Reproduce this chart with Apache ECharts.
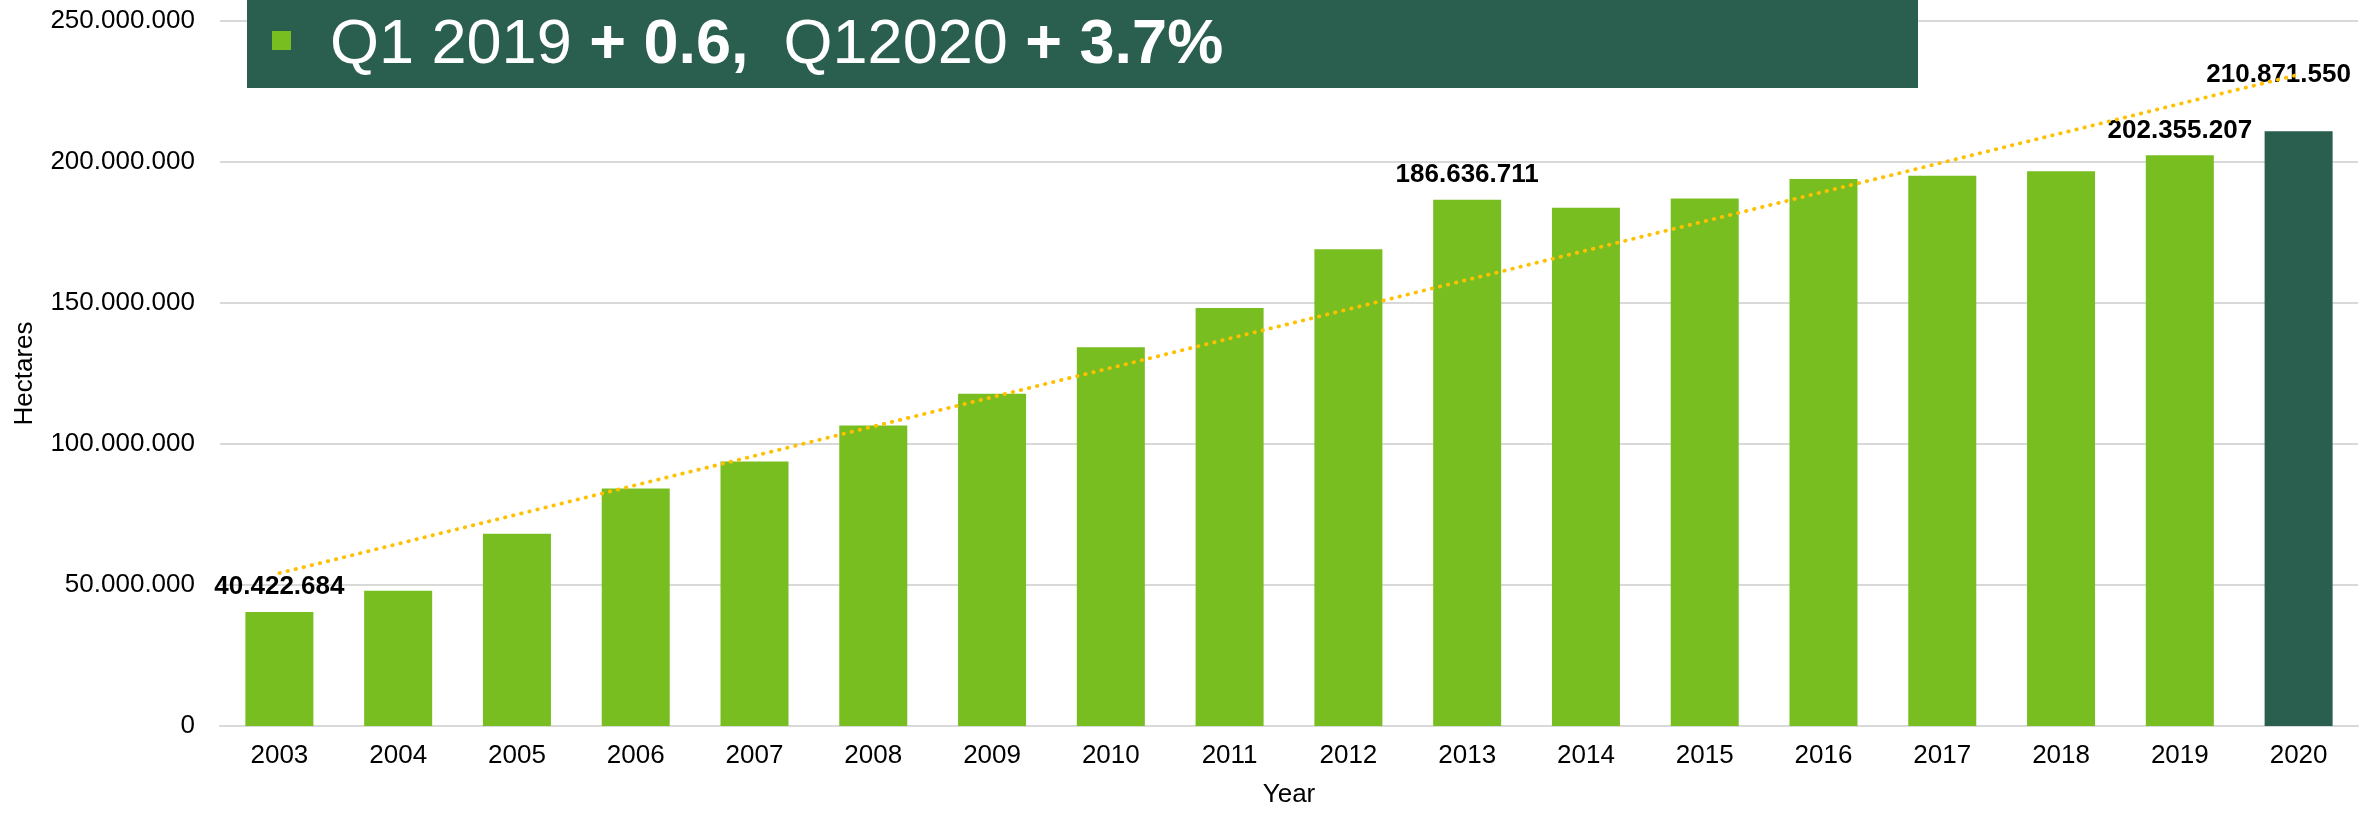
<!DOCTYPE html>
<html>
<head>
<meta charset="utf-8">
<style>
  html, body { margin: 0; padding: 0; background: #fff; }
  #main { width: 2376px; height: 813px; }
</style>
<script src="https://cdn.jsdelivr.net/npm/echarts@6/dist/echarts.min.js"></script>
</head>
<body>
<div id="main"></div>
<script>
var years = ['2003', '2004', '2005', '2006', '2007', '2008', '2009', '2010', '2011',
  '2012', '2013', '2014', '2015', '2016', '2017', '2018', '2019', '2020'];
var hectares = [40422684, 48000000, 68200000, 84200000, 93800000, 106600000, 117800000,
  134300000, 148200000, 169100000, 186636711, 183800000, 187100000, 194000000,
  195100000, 196700000, 202355207, 210871550];
var labelledYears = ['2003', '2013', '2019', '2020'];
var highlightYear = '2020';
// linear trend: value at first and last year
var trendEnds = [54200000, 231000000];
var yTicks = [0, 50000000, 100000000, 150000000, 200000000, 250000000];

var green = '#78BE21';
var darkGreen = '#2A5E4E';
var font = '"Liberation Sans", Arial, sans-serif';

var fmt = function(v) {
  return String(v).replace(/\B(?=(\d{3})+(?!\d))/g, '.');
};

var barData = years.map(function(y, i) {
  var item = {
    value: hectares[i],
    itemStyle: { color: y === highlightYear ? darkGreen : green }
  };
  if (labelledYears.indexOf(y) !== -1) {
    item.label = { show: true };
    if (y === highlightYear) {
      item.label.offset = [-20, -32];
    }
  }
  return item;
});

var trendData = years.map(function(y, i) {
  if (i === 0) return trendEnds[0];
  if (i === years.length - 1) return trendEnds[1];
  return null;
});

var myChart = echarts.init(document.getElementById('main'));

var option = {
  animation: false,
  textStyle: { fontFamily: font },
  grid: {
    left: 220,
    right: 18,
    top: 21,
    bottom: 82,
    containLabel: false
  },
  xAxis: {
    type: 'category',
    data: years,
    name: 'Year',
    nameLocation: 'middle',
    nameGap: 56,
    nameTextStyle: { color: '#000', fontSize: 26, fontFamily: font },
    axisLine: { lineStyle: { color: '#D9D9D9', width: 2 } },
    axisTick: { show: false },
    axisLabel: { color: '#000', fontSize: 26, margin: 17, fontFamily: font }
  },
  yAxis: {
    type: 'value',
    min: yTicks[0],
    max: yTicks[yTicks.length - 1],
    interval: yTicks[1] - yTicks[0],
    name: 'Hectares',
    nameLocation: 'middle',
    nameGap: 182,
    nameRotate: 90,
    nameTextStyle: { color: '#000', fontSize: 26, fontFamily: font },
    axisLine: { show: false },
    axisTick: { show: false },
    axisLabel: {
      color: '#000',
      fontSize: 26,
      margin: 25,
      fontFamily: font,
      formatter: fmt
    },
    splitLine: { lineStyle: { color: '#D9D9D9', width: 2 } }
  },
  series: [{
    type: 'bar',
    data: barData,
    barWidth: 68,
    z: 2,
    label: {
      show: false,
      position: 'top',
      distance: 12,
      color: '#000',
      fontSize: 26,
      fontWeight: 'bold',
      fontFamily: font,
      formatter: function(p) { return fmt(p.value); }
    }
  }, {
    type: 'line',
    data: trendData,
    connectNulls: true,
    symbol: 'none',
    silent: true,
    z: 3,
    lineStyle: {
      color: '#FFC000',
      width: 3.8,
      type: [0.5, 7.8],
      cap: 'round'
    }
  }],
  graphic: [{
    type: 'rect',
    left: 247,
    top: 0,
    shape: { width: 1671, height: 88 },
    style: { fill: darkGreen },
    z: 10
  }, {
    type: 'rect',
    left: 272,
    top: 31,
    shape: { width: 19, height: 19 },
    style: { fill: green },
    z: 11
  }, {
    type: 'text',
    left: 330,
    top: 14,
    z: 11,
    style: {
      text: '{r|Q1 2019 }{b|+ 0.6,}{r|  Q12020 }{b|+ 3.7%}',
      fill: '#fff',
      font: '63px ' + font,
      rich: {
        r: { fontSize: 63, fontFamily: font, fill: '#fff' },
        b: { fontSize: 63, fontFamily: font, fontWeight: 'bold', fill: '#fff' }
      }
    }
  }]
};

myChart.setOption(option);
</script>
</body>
</html>
